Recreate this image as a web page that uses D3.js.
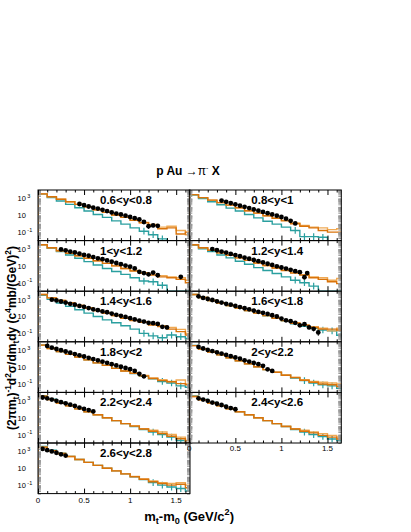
<!DOCTYPE html>
<html>
<head>
<meta charset="utf-8">
<script src="https://cdn.jsdelivr.net/npm/d3@7"></script>
<style>
  body { margin: 0; background: #fff; }
  text { font-family: "Liberation Sans", Arial, sans-serif; }
</style>
</head>
<body>
<svg width="411" height="532"></svg>
<script>
// rapidity windows, one panel each
const rapidity = ["0.6<y<0.8", "0.8<y<1", "1<y<1.2", "1.2<y<1.4", "1.4<y<1.6", "1.6<y<1.8",
                  "1.8<y<2", "2<y<2.2", "2.2<y<2.4", "2.4<y<2.6", "2.6<y<2.8"];

// histogram bin edges in mt-m0 (GeV/c2)
const binEdges = [0, 0.1, 0.2, 0.3, 0.4, 0.5, 0.6, 0.7, 0.8, 0.9, 1.0, 1.1, 1.2, 1.3, 1.4, 1.5, 1.6, 1.7];

// model histograms, one row per panel
const darkOrange = [
  [3500,1600,800,400,200,100,45,22,11,5.6,2.5,1.3,0.63,0.25,0.32,0.06,0.1],
  [2800,1260,630,320,160,80,35,18,9,4.5,2.2,1,0.5,0.32,0.16,0.1,0.1],
  [3200,1400,630,320,160,80,40,20,10,5,2.5,1.4,0.8,0.5,0.4,0.25,0.1],
  [3200,1400,710,350,180,90,45,22,11,5.6,2.8,1.4,0.8,0.4,0.25,0.13,0.08],
  [4000,1600,800,400,200,100,50,25,12.6,6.3,3.2,2,1,0.63,0.32,0.16,0.063],
  [4000,1800,800,400,200,100,50,25,12.6,6.3,3.2,1.6,0.9,0.5,0.32,0.32,0.25],
  [4000,1600,710,320,160,71,32,16,7,3.5,1.8,0.9,0.45,0.25,0.18,0.11,0.08],
  [3500,1400,630,280,126,56,25,11,5,2.5,1.1,0.56,0.28,0.16,0.1,0.08,0.05],
  [3500,1400,560,250,110,50,22,10,4.5,2,1,0.45,0.25,0.13,0.063,0.032,0.008],
  [3200,1300,560,250,110,50,22,10,4.5,2,0.9,0.45,0.25,0.16,0.08,0.05,0.03],
  [3200,1260,560,250,110,50,22,10,5,2.2,1,0.5,0.25,0.16,0.1,0.13,0.05]
];
const lightOrange = [
  [3500,1600,800,400,200,100,45,22,11,5.6,2.8,1.4,0.8,0.4,0.5,0.16,0.05],
  [2800,1260,630,320,160,80,35,18,9,4.5,2.5,1.26,0.63,0.4,0.32,0.2,0.25],
  [3200,1400,630,320,160,80,40,20,10,5,2.8,1.6,1,0.7,0.5,0.4,0.2],
  [3200,1400,710,350,180,90,45,22,11,5.6,3,1.6,0.9,0.5,0.4,0.2,0.32],
  [4000,1600,800,400,200,100,50,25,12.6,6.3,3.5,2.2,1.2,0.8,0.5,0.3,0.1],
  [4000,1800,800,400,200,100,50,25,12.6,6.3,3.2,1.8,1,0.63,0.4,0.2,0.4],
  [4000,1600,710,320,160,71,32,16,7,3.5,2,1,0.5,0.32,0.2,0.3,0.1],
  [3500,1400,630,280,126,56,25,11,5,2.5,1.2,0.63,0.32,0.2,0.16,0.13,0.1],
  [3500,1400,560,250,110,50,22,10,4.5,2,1.1,0.5,0.32,0.2,0.1,0.05,0.02],
  [3200,1300,560,250,110,50,22,10,4.5,2,1,0.5,0.32,0.2,0.13,0.08,0.05],
  [3200,1260,560,250,110,50,22,10,5,2.2,1.1,0.56,0.32,0.2,0.16,0.2,0.1]
];
const teal = [
  [3200,1260,500,200,80,32,12.6,5.6,2.2,0.9,0.32,0.13,0.05,0.016,0.003,0.001,0.001],
  [2500,1000,400,180,71,32,12.6,5,2,0.9,0.4,0.16,0.03,0.03,0.025,0.001,0.001],
  [3200,1260,500,200,80,32,12.6,5,2.2,1,0.4,0.16,0.13,0.05,0.001,0.001,0.001],
  [2800,1100,500,200,90,35,16,6.3,2.8,1.26,0.5,0.2,0.1,0.04,0.001,0.001,0.001],
  [3200,1100,400,160,63,25,10,4,1.8,0.8,0.32,0.1,0.05,0.03,0.063,0.04,0.025],
  [4000,1800,800,400,200,100,50,25,12,6,3,1.4,0.7,0.4,0.25,0.2,0.06],
  [4200,1700,710,320,160,71,32,16,7,3.5,1.7,0.8,0.4,0.2,0.13,0.06,0.04],
  [3800,1500,630,280,126,56,25,11,5,2.4,1.1,0.5,0.25,0.13,0.08,0.06,0.03],
  [4000,1600,630,280,120,50,22,10,4.5,2,0.9,0.4,0.2,0.1,0.05,0.02,0.01],
  [3800,1500,630,280,120,50,22,10,4.5,2,0.9,0.4,0.2,0.1,0.06,0.03,0.02],
  [3800,1400,600,260,110,50,22,10,5,2.2,1,0.45,0.2,0.1,0.06,0.04,0.02]
];

// measured points: [mt-m0, value, relative error]
const points = [
  [[.45,220],[.5,160],[.55,110],[.6,80],[.65,63],[.7,45],[.75,32],[.8,22],[.85,16],[.9,12.6],[.95,9],[1.0,6.3],[1.05,4.5],[1.1,3.2],[1.15,1.6,.3],[1.2,0.5,.5],[1.25,0.63,.4],[1.3,0.56,.4]],
  [[.35,560],[.4,400],[.45,280],[.5,200],[.55,140],[.6,100],[.65,71],[.7,50],[.75,35],[.8,25],[.85,18],[.9,12.6],[.95,9],[1.0,6.3],[1.05,4],[1.1,2.2],[1.15,1.1,.3]],
  [[.25,890],[.3,710],[.35,500],[.4,400],[.45,280],[.5,200],[.55,160],[.6,112],[.65,80],[.7,63],[.75,45],[.8,32],[.85,22],[.9,16],[.95,11],[1.0,8],[1.05,5],[1.1,2,.3],[1.15,1.4,.4],[1.2,1,.4],[1.25,1.6,.4],[1.3,0.8,.5],[1.55,0.5,.5]],
  [[.25,1000],[.3,720],[.35,500],[.4,380],[.45,260],[.5,190],[.55,140],[.6,95],[.65,70],[.7,50],[.75,36],[.8,26],[.85,18],[.9,13],[.95,9],[1.0,6.5],[1.05,4.8],[1.1,3.4],[1.15,2.4],[1.2,1.8],[1.25,0.45,.4],[1.28,1.4,.3]],
  [[.15,1000],[.2,800],[.25,600],[.3,450],[.35,320],[.4,250],[.45,180],[.5,140],[.55,100],[.6,71],[.65,56],[.7,40],[.75,32],[.8,22],[.85,16],[.9,12],[.95,9],[1.0,6.3],[1.05,4.5],[1.1,3.2],[1.15,2.5],[1.2,1.8],[1.25,1.6],[1.3,1.3,.3],[1.35,0.6,.4],[1.4,0.5,.4]],
  [[.1,2500],[.15,1600],[.2,1200],[.25,900],[.3,630],[.35,450],[.4,320],[.45,250],[.5,180],[.55,130],[.6,95],[.65,70],[.7,50],[.75,36],[.8,27],[.85,20],[.9,14],[.95,10],[1.0,5.6],[1.05,3.5],[1.1,2.8],[1.15,1.8],[1.2,0.9,.3],[1.25,1.2,.3],[1.3,0.5,.4],[1.35,0.35,.5],[1.4,0.13,.6]],
  [[.1,3200],[.15,2000],[.2,1400],[.25,1000],[.3,710],[.35,500],[.4,350],[.45,250],[.5,180],[.55,125],[.6,90],[.65,63],[.7,45],[.75,32],[.8,22],[.85,16],[.9,11],[.95,8],[1.0,5.6],[1.05,3.5],[1.1,1.6,.3],[1.15,0.8,.4]],
  [[.1,2500],[.15,1600],[.2,1100],[.25,800],[.3,560],[.35,400],[.4,280],[.45,200],[.5,140],[.55,100],[.6,63],[.65,45],[.7,32],[.75,22],[.8,14],[.85,5.5],[.9,3.5]],
  [[.05,2500],[.1,2000],[.15,1400],[.2,1000],[.25,700],[.3,500],[.35,350],[.4,250],[.45,160],[.5,110],[.55,80],[.6,56]],
  [[.1,2000],[.15,1400],[.2,1000],[.25,630],[.3,450],[.35,320],[.4,200],[.45,140],[.5,100]],
  [[.05,2000],[.1,1400],[.15,1000],[.2,700],[.25,450],[.3,320]]
];

const xMajor = [0, 0.5, 1, 1.5];
const xMinor = [0.1,0.2,0.3,0.4,0.6,0.7,0.8,0.9,1.1,1.2,1.3,1.4,1.6];
const yLabels = [[1e3, "3"], [10, ""], [0.1, "-1"]];

const svg = d3.select("svg");
const panelW = 152, panelH = 50.6;
const colX = [38, 189.3], top0 = 190;

const x = d3.scaleLinear().domain([0, 1.65]).range([0, panelW]);
const y = d3.scaleLog().domain([1e-2, 1e4]).range([panelH, 0]).clamp(true);

// ROOT-like latex text: parts are [text, "sup"|"sub"|undefined]
function richText(sel, parts, size) {
  let back = 0;
  parts.forEach(function(p) {
    const t = sel.append("tspan").text(p[0]);
    let dy = back;
    back = 0;
    if (p[1] === "sup") { dy += -size * 0.45; back = size * 0.45; t.attr("font-size", size * 0.7); }
    if (p[1] === "sub") { dy += size * 0.25; back = -size * 0.25; t.attr("font-size", size * 0.7); }
    if (dy) t.attr("dy", dy);
  });
}

function histPath(vals) {
  let pts = [[x(binEdges[0]), panelH]];
  vals.forEach(function(v, i) {
    pts.push([x(binEdges[i]), y(v)]);
    pts.push([x(binEdges[i + 1]), y(v)]);
  });
  pts.push([x(binEdges[vals.length]), panelH]);
  return d3.line()(pts);
}

// y ticks: every 1..9 x decade
const yt = [];
[1e-2, 1e-1, 1, 10, 100, 1000].forEach(function(d) {
  [1, 2, 3, 4, 5, 6, 7, 8, 9].forEach(function(m) { yt.push(m * d); });
});
yt.push(1e4);

rapidity.forEach(function(label, i) {
  const col = i % 2, row = Math.floor(i / 2);
  const g = svg.append("g")
      .attr("transform", "translate(" + colX[col] + "," + (top0 + row * panelH) + ")");

  g.append("clipPath").attr("id", "clip" + i)
    .append("rect").attr("width", panelW).attr("height", panelH);

  const plot = g.append("g").attr("clip-path", "url(#clip" + i + ")");

  plot.append("path").attr("d", histPath(teal[i]))
      .attr("fill", "none").attr("stroke", "#2a9f9f").attr("stroke-width", 1.4);
  // statistical spread of the teal tail bins
  plot.selectAll(".terr").data(teal[i].map(function(v, k) { return [k, v]; })
      .filter(function(d) { return d[1] < 0.3 && d[1] > 0.005; }))
    .enter().append("line")
      .attr("x1", function(d) { return x((binEdges[d[0]] + binEdges[d[0] + 1]) / 2); })
      .attr("x2", function(d) { return x((binEdges[d[0]] + binEdges[d[0] + 1]) / 2); })
      .attr("y1", function(d) { return y(d[1] * 2.5); })
      .attr("y2", function(d) { return y(d[1] / 2.5); })
      .attr("stroke", "#2a9f9f").attr("stroke-width", 1.2);
  plot.append("path").attr("d", histPath(lightOrange[i]))
      .attr("fill", "none").attr("stroke", "#f0aa55").attr("stroke-width", 1.4);
  plot.append("path").attr("d", histPath(darkOrange[i]))
      .attr("fill", "none").attr("stroke", "#d9730a").attr("stroke-width", 1.4);

  // error bars then dots
  plot.selectAll(".err").data(points[i].filter(function(d) { return d[2]; }))
    .enter().append("line")
      .attr("x1", function(d) { return x(d[0]); })
      .attr("x2", function(d) { return x(d[0]); })
      .attr("y1", function(d) { return y(d[1] * (1 + d[2])); })
      .attr("y2", function(d) { return y(d[1] * (1 - d[2])); })
      .attr("stroke", "#000").attr("stroke-width", 1);
  plot.selectAll("circle").data(points[i])
    .enter().append("circle")
      .attr("cx", function(d) { return x(d[0]); })
      .attr("cy", function(d) { return y(d[1]); })
      .attr("r", 2.4)
      .attr("fill", "#000");

  // gray log ticks on both sides
  g.append("g").call(d3.axisLeft(y).tickValues(yt).tickSizeInner(-3).tickSizeOuter(0).tickFormat(""))
    .call(function(a) { a.select(".domain").remove(); a.selectAll("line").attr("stroke", "#999"); });
  g.append("g").attr("transform", "translate(" + panelW + ",0)")
    .call(d3.axisRight(y).tickValues(yt).tickSizeInner(-3).tickSizeOuter(0).tickFormat(""))
    .call(function(a) { a.select(".domain").remove(); a.selectAll("line").attr("stroke", "#999"); });

  // x ticks, top and bottom, inward
  g.append("g").call(d3.axisTop(x).tickValues(xMajor).tickSizeInner(-5).tickSizeOuter(0).tickFormat(""))
    .call(function(a) { a.select(".domain").remove(); });
  g.append("g").call(d3.axisTop(x).tickValues(xMinor).tickSizeInner(-2.5).tickSizeOuter(0).tickFormat(""))
    .call(function(a) { a.select(".domain").remove(); });
  g.append("g").attr("transform", "translate(0," + panelH + ")")
    .call(d3.axisBottom(x).tickValues(xMajor).tickSizeInner(-5).tickSizeOuter(0).tickFormat(""))
    .call(function(a) { a.select(".domain").remove(); });
  g.append("g").attr("transform", "translate(0," + panelH + ")")
    .call(d3.axisBottom(x).tickValues(xMinor).tickSizeInner(-2.5).tickSizeOuter(0).tickFormat(""))
    .call(function(a) { a.select(".domain").remove(); });

  g.append("rect").attr("width", panelW).attr("height", panelH)
    .attr("fill", "none").attr("stroke", "#000").attr("stroke-width", 1);

  // y labels on left column
  if (col === 0) {
    yLabels.forEach(function(t) {
      const tx = g.append("text").attr("x", -20.5).attr("y", y(t[0]) + 3)
        .attr("font-size", 7.5);
      tx.append("tspan").text("10");
      if (t[1]) tx.append("tspan").attr("dy", -3.5).attr("dx", 1.5).attr("font-size", 5.5).text(t[1]);
    });
  }

  g.append("text").attr("x", 62).attr("y", 14)
    .attr("font-size", 11.5).attr("font-weight", "bold").text(label);
});

// x labels under the last row of each column
[[0, 5], [1, 4]].forEach(function(c) {
  const gx = svg.append("g")
    .attr("transform", "translate(" + colX[c[0]] + "," + (top0 + (c[1] + 1) * panelH) + ")");
  gx.selectAll("text").data(xMajor).enter().append("text")
    .attr("x", function(v) { return x(v); })
    .attr("y", c[0] === 0 ? 9.5 : 7.5)
    .attr("text-anchor", "middle").attr("font-size", 8)
    .text(function(v) { return v; });
});

// title
const title = svg.append("text").attr("x", 188).attr("y", 175)
  .attr("text-anchor", "middle").attr("font-size", 12);
title.append("tspan").attr("font-weight", "bold").text("p Au ");
title.append("tspan").text("\u2192\u03c0");
title.append("tspan").attr("dy", -5).attr("font-size", 7).text("-");
title.append("tspan").attr("dy", 5).attr("font-weight", "bold").text(" X");

// axis titles
const yTitle = svg.append("text")
  .attr("transform", "translate(16,338) rotate(-90)")
  .attr("text-anchor", "middle").attr("font-size", 12).attr("font-weight", "bold");
richText(yTitle, [["(2\u03c0m"], ["t", "sub"], [")"], ["-1", "sup"], ["d"], ["2", "sup"],
  ["\u03c3/dm"], ["t", "sub"], ["dy (c"], ["4", "sup"], ["mb/(GeV)"], ["2", "sup"], [")"]], 12);

const xTitle = svg.append("text").attr("x", 234).attr("y", 521)
  .attr("text-anchor", "end").attr("font-size", 13).attr("font-weight", "bold");
richText(xTitle, [["m"], ["t", "sub"], ["-m"], ["0", "sub"], [" (GeV/c"], ["2", "sup"], [")"]], 13);
</script>
</body>
</html>
